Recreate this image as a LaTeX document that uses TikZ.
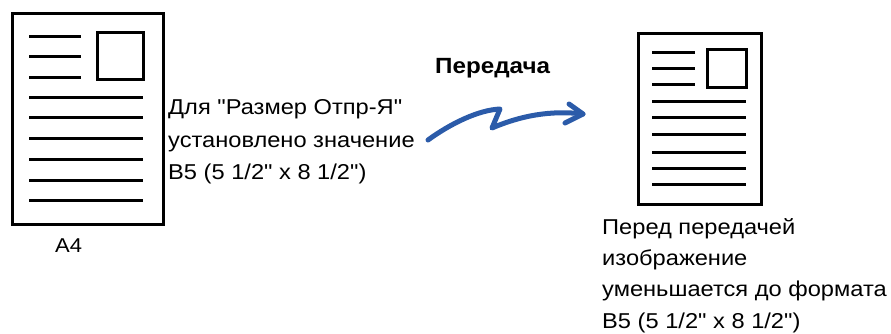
\documentclass[tikz,border=0pt]{standalone}
\usepackage{fontspec}
\newfontfamily\labelfont{Liberation Sans}[FakeStretch=1.1]
\definecolor{arrowblue}{HTML}{2B5BA9}
\begin{document}
\begin{tikzpicture}[x=1pt,y=-1pt,
  page/.style={draw=black,line width=3pt,fill=white},
  txt/.style={line width=3pt,line cap=butt},
  lbl/.style={font=\labelfont\fontsize{21.5}{32.5}\selectfont,anchor=base west,inner sep=0pt,align=left},
  flow/.style={draw=arrowblue,line width=5pt,line cap=round,line join=round}]
\useasboundingbox (0,0) rectangle (891,334);
% left page
\node[page,minimum width=151pt,minimum height=211pt,inner sep=0pt,anchor=north west] (pA) at (11,12) {};
\draw[txt] (29,37) -- (81,37) (29,57) -- (81,57) (29,78) -- (81,78);
\draw[line width=3pt] (97,33) rectangle (143,80);
\foreach \y in {98,118,139,159,180,200} \draw[txt] (29,\y) -- (143,\y);
% right page
\node[page,minimum width=123pt,minimum height=171pt,inner sep=0pt,anchor=north west] (pB) at (637,32) {};
\draw[txt] (652,53) -- (695,53) (652,69) -- (695,69) (652,85) -- (695,85);
\draw[line width=3pt] (707,50) rectangle (746,88);
\foreach \y in {102,118,135,152,168,184} \draw[txt] (652,\y) -- (746,\y);
% labels
\node[lbl,font=\labelfont\fontsize{20}{24}\selectfont] (a4) at (55,252) {A4};
\node[lbl] (left) at (168,179.5) {Для "Размер Отпр-Я"\\установлено значение\\B5 (5 1/2" x 8 1/2")};
\node[lbl,font=\labelfont\fontsize{22}{26}\selectfont\bfseries] (tx) at (435,74) {Передача};
\node[lbl,font=\labelfont\fontsize{21.5}{31.3}\selectfont] (right) at (602,328) {Перед передачей\\изображение\\уменьшается до формата\\B5 (5 1/2" x 8 1/2")};
% arrow
\coordinate (s) at (428,140);
\coordinate (p) at (500,109);
\coordinate (q) at (492,128);
\coordinate (t) at (583,114);
\draw[flow] (s) .. controls (450,124) and (478,110) .. (p) -- (q) .. controls (520,116) and (550,110) .. (t);
\draw[flow] (569,104) -- (t) -- (565,123);
\end{tikzpicture}
\end{document}
